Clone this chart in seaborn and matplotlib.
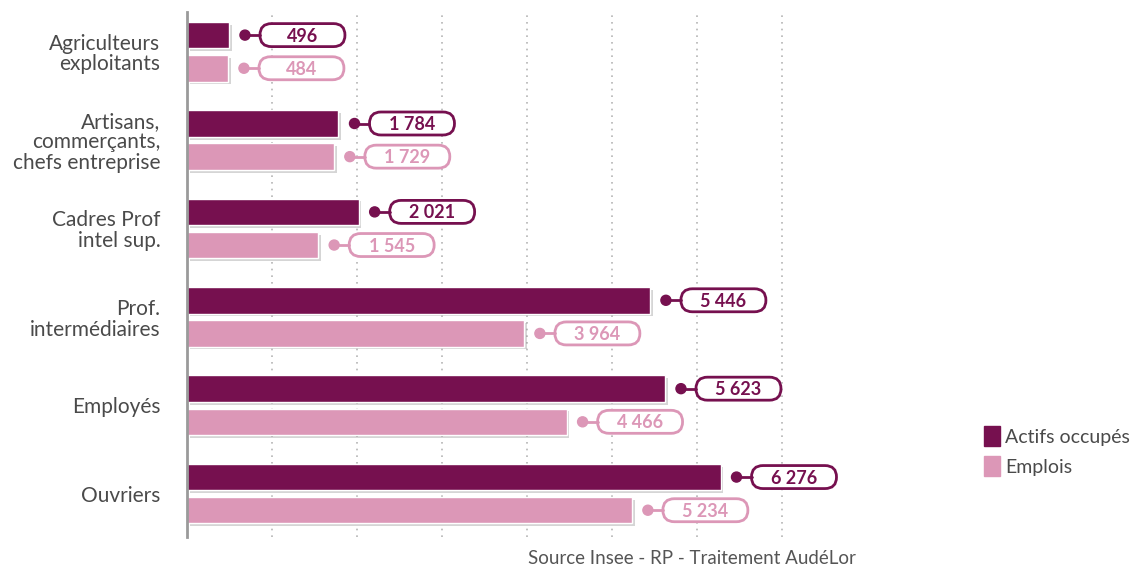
#!/usr/bin/env python3
"""Actifs occupés vs emplois par catégorie socioprofessionnelle."""

import matplotlib
matplotlib.use("Agg")
import matplotlib.pyplot as plt
import matplotlib.patches as mpatches
import matplotlib.patheffects as pe
from matplotlib.transforms import Affine2D, ScaledTranslation
import pandas as pd
import seaborn as sns

CATEGORIES = [
    "Agriculteurs\nexploitants",
    "Artisans,\ncommerçants,\nchefs entreprise",
    "Cadres Prof\nintel sup.",
    "Prof.\nintermédiaires",
    "Employés",
    "Ouvriers",
]
ACTIFS = [496, 1784, 2021, 5446, 5623, 6276]
EMPLOIS = [484, 1729, 1545, 3964, 4466, 5234]
SERIES = ["Actifs occupés", "Emplois"]
COLORS = {"Actifs occupés": "#76104f", "Emplois": "#dc97b7"}
SOURCE = "Source Insee - RP - Traitement AudéLor"


def fmt(v):
    return f"{v:,}".replace(",", " ")


def main():
    df = pd.DataFrame({
        "Catégorie": CATEGORIES * 2,
        "Série": [SERIES[0]] * len(CATEGORIES) + [SERIES[1]] * len(CATEGORIES),
        "Valeur": ACTIFS + EMPLOIS,
    })

    sns.set_theme(style="white")
    plt.rcParams["font.family"] = ["Lato", "DejaVu Sans"]

    fig = plt.figure(figsize=(11.32, 5.67), dpi=100)
    ax = fig.add_axes([0.165, 0.053, 0.601, 0.926])

    sns.barplot(
        data=df, x="Valeur", y="Catégorie", hue="Série",
        order=CATEGORIES, hue_order=SERIES, palette=COLORS,
        orient="h", errorbar=None, width=0.75, gap=0.2,
        legend=False, ax=ax, saturation=1,
    )

    ax.set_xlim(0, 8000)
    ax.set_ylim(5.49, -0.45)
    ax.set_xticks(range(1000, 8000, 1000))
    ax.set_xticklabels([])
    ax.tick_params(axis="both", length=0)
    ax.tick_params(axis="y", pad=19, labelsize=15, labelcolor="#4a4a4a")
    for lab in ax.get_yticklabels():
        lab.set_horizontalalignment("right")
        lab.set_multialignment("right")
        lab.set_linespacing(1.05)
    ax.set_xlabel("")
    ax.set_ylabel("")
    ax.xaxis.grid(True, color="#b5b5b5", linestyle=(0, (1, 3)), linewidth=1.2)
    ax.set_axisbelow(True)
    for side in ["top", "right", "bottom"]:
        ax.spines[side].set_visible(False)
    ax.spines["left"].set_color("#9a9a9a")
    ax.spines["left"].set_linewidth(2)

    shadow = [pe.SimplePatchShadow(offset=(2, -2), shadow_rgbFace="#888888", alpha=0.35), pe.Normal()]

    for bar in ax.patches:
        w = bar.get_width()
        if not w or w != w:
            continue
        bar.set_path_effects(shadow)
        color = bar.get_facecolor()
        yc = bar.get_y() + bar.get_height() / 2
        # pixel units anchored at the end of the bar
        tr = Affine2D() + ScaledTranslation(w, yc, ax.transData)
        ax.add_line(plt.Line2D([16, 31], [0, 0], transform=tr, color=color, lw=2, clip_on=False))
        ax.add_patch(mpatches.Circle((16, 0), 5, transform=tr, color=color, clip_on=False))
        ax.add_patch(mpatches.FancyBboxPatch(
            (31, -11.5), 85, 23,
            boxstyle="round,pad=0,rounding_size=11.5",
            transform=tr, facecolor="white", edgecolor=color, lw=2, clip_on=False,
        ))
        ax.text(73.5, -1, fmt(int(w)), transform=tr, ha="center", va="center",
                fontsize=13, fontweight="bold", color=color, clip_on=False)

    handles = [mpatches.Patch(color=COLORS[s], label=s) for s in SERIES]
    fig.legend(handles=handles, loc="upper left", bbox_to_anchor=(0.857, 0.272),
               frameon=False, fontsize=14, handlelength=0.85, handleheight=1.15,
               handletextpad=0.25, labelspacing=0.55, labelcolor="#4a4a4a",
               borderaxespad=0.3)

    fig.text(0.611, 0.0, SOURCE, ha="center", va="bottom", fontsize=13.5,
             color="#555555")

    fig.savefig("out.png", dpi=100)
    plt.close(fig)


if __name__ == "__main__":
    main()
